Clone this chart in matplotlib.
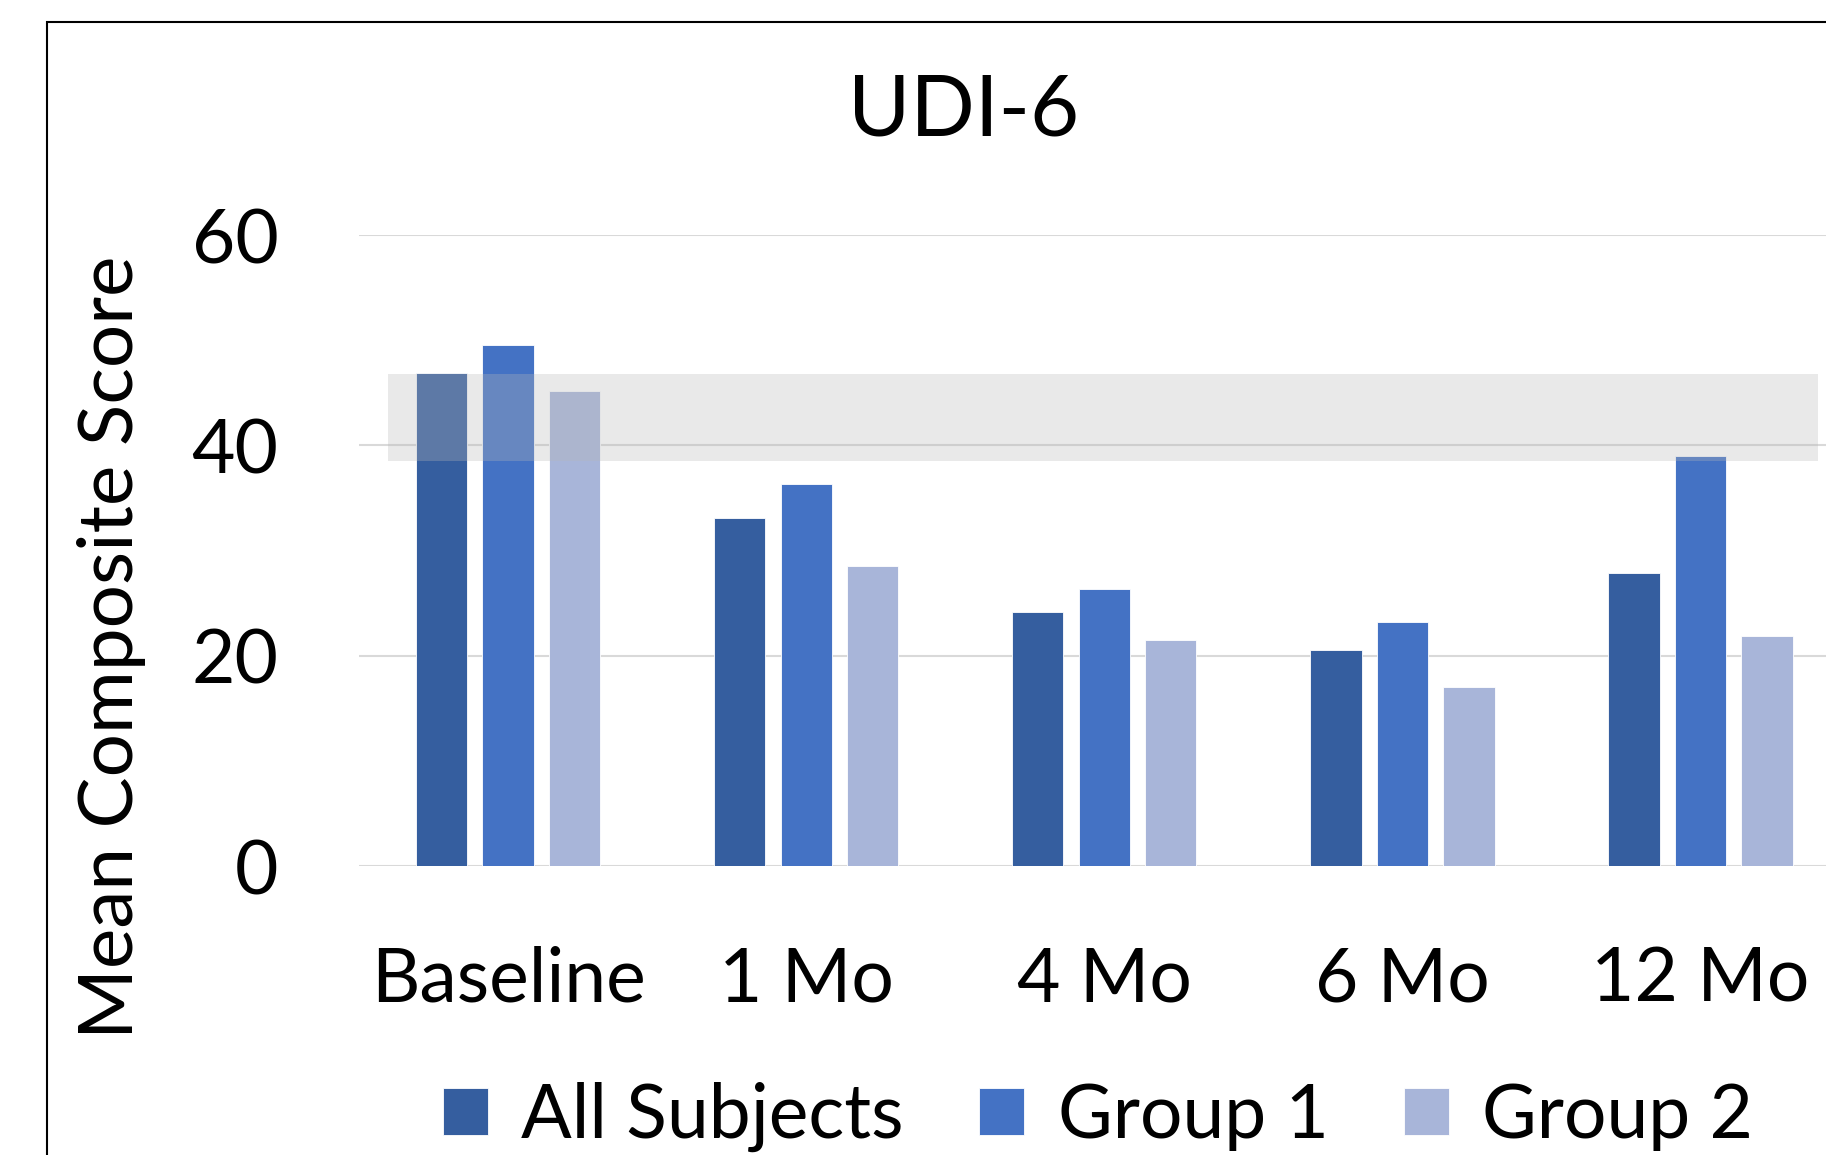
import matplotlib.pyplot as plt
import numpy as np
from matplotlib.patches import Rectangle

plt.rcParams["font.family"] = ["Lato", "DejaVu Sans"]

categories = ["Baseline", "1 Mo", "4 Mo", "6 Mo", "12 Mo"]
all_subjects = [46.9, 33.1, 24.2, 20.5, 27.9]
group_1 = [49.5, 36.3, 26.3, 23.2, 39.0]
group_2 = [45.2, 28.5, 21.5, 17.0, 21.9]
series_names = ["All Subjects", "Group 1", "Group 2"]
colors = ["#355E9F", "#4472C4", "#A8B5D9"]

# shaded reference range
band_low, band_high = 38.5, 46.8
yticks = [0, 20, 40, 60]

fig = plt.figure(figsize=(18.26, 11.55), dpi=100)
ax = fig.add_axes([0.1966, 0.2502, 0.8163, 0.5463])

x = np.arange(len(categories))
pitch = 0.223
width = 0.172
for i, (vals, name, c) in enumerate(zip([all_subjects, group_1, group_2], series_names, colors)):
    ax.bar(x + (i - 1) * pitch, vals, width, color=c, label=name, zorder=2,
           edgecolor="#ffffff", linewidth=0.6)

ax.add_patch(Rectangle((-0.402, band_low), 4.797, band_high - band_low,
                       facecolor="#b8b8b8", alpha=0.31, lw=0, zorder=3))

ax.set_xlim(-0.5, len(categories) - 0.5)
ax.set_ylim(0, 60)
ax.set_yticks(yticks)
ax.set_xticks(x)
ax.set_xticklabels(categories)
ax.yaxis.grid(True, color="#d9d9d9", linewidth=1.5, zorder=0)
ax.set_axisbelow(True)
for s in ax.spines.values():
    s.set_visible(False)
ax.tick_params(axis="both", length=0, labelsize=54)
ax.tick_params(axis="y", pad=58)
ax.tick_params(axis="x", pad=57)

fig.text(111 / 1826, 1 - 647 / 1155, "Mean Composite Score", rotation=90,
         ha="center", va="center", fontsize=55)
fig.text(964 / 1826, 1 - 111 / 1155, "UDI-6", ha="center", va="center", fontsize=61)

handles, labels = ax.get_legend_handles_labels()
fig.legend(handles, labels, loc="center", ncol=3, frameon=False, fontsize=54,
           bbox_to_anchor=(1098 / 1826, 1 - 1117 / 1155),
           handlelength=0.6, handleheight=0.6, handletextpad=0.45, columnspacing=1.0)

fig.patches.append(Rectangle((47 / 1826, -0.1), 2, 1.1 - 22 / 1155, transform=fig.transFigure,
                             fill=False, edgecolor="black", linewidth=1.5))

fig.savefig("out.png", dpi=100)
